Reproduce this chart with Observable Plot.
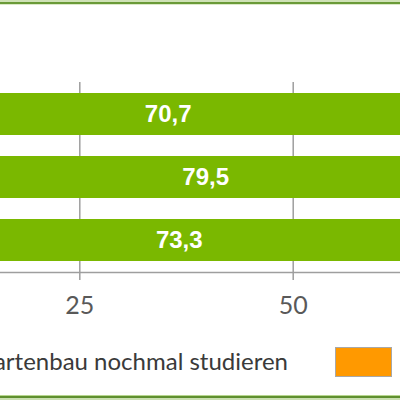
<!DOCTYPE html>
<html>
<head>
<meta charset="utf-8">
<script src="https://cdn.jsdelivr.net/npm/d3@7"></script>
<script src="https://cdn.jsdelivr.net/npm/@observablehq/plot@0.6"></script>
<style>
  html, body { margin: 0; padding: 0; background: #fff; overflow: hidden; }
  #wrap { position: relative; width: 400px; height: 400px; overflow: hidden; background: #fff; }
  #chart svg { display: block; overflow: hidden; }
  .border-top { position: absolute; left: 0; top: 0; width: 400px; height: 5px;
    background: linear-gradient(to bottom, #cfe2b6 0px, #cfe2b6 2px, #6a9a38 2px, #6a9a38 4px, #dbe9c8 4px, #dbe9c8 5px); }
  .border-bottom { position: absolute; left: 0; top: 395px; width: 400px; height: 5px;
    background: linear-gradient(to bottom, #b7d68e 0px, #b7d68e 1px, #5f8f2f 1px, #5f8f2f 3px, #c9dfb0 3px, #c9dfb0 5px); }
  .leg-text { position: absolute; top: 346px; font-family: Lato, "Open Sans", sans-serif; font-size: 24px; color: #3a3a3a; white-space: nowrap; line-height: 30px; }
  .leg-swatch { position: absolute; width: 55px; height: 28px; border: 1px solid #a8a8a8; box-sizing: content-box; }
</style>
</head>
<body>
<div id="wrap">
  <div id="chart"></div>
  <div id="legend"></div>
  <div class="border-top"></div>
  <div class="border-bottom"></div>
</div>
<script>
// Data
const categories = ["Gruppe 1", "Gruppe 2", "Gruppe 3"];
const jaValues = [70.7, 79.5, 73.3];
const neinValues = [29.3, 20.5, 26.7];
const seriesNames = ["Würde Gartenbau nochmal studieren", "Würde Gartenbau nicht nochmal studieren"];
const seriesColors = ["#7ab800", "#ff9900"];
const xTicks = [25, 50];

const rows = [];
categories.forEach((c, i) => {
  rows.push({cat: c, series: seriesNames[0], value: jaValues[i]});
  rows.push({cat: c, series: seriesNames[1], value: neinValues[i]});
});
const jaRows = categories.map((c, i) => ({cat: c, value: jaValues[i]}));

const fmt = v => v.toFixed(1).replace(".", ",");

const chart = Plot.plot({
  width: 400,
  height: 335,
  marginTop: 82,
  marginBottom: 63,
  marginLeft: 0,
  marginRight: 0,
  style: {background: "transparent"},
  x: {domain: [0, 100], range: [-134.1, 719.5]},
  y: {type: "band", domain: categories, paddingInner: 0.33, paddingOuter: 0.15, axis: null},
  color: {domain: seriesNames, range: seriesColors},
  marks: [
    Plot.gridX(xTicks, {stroke: "#9e9e9e", strokeOpacity: 1, strokeWidth: 1.5}),
    Plot.frame({anchor: "bottom", stroke: "#9e9e9e", strokeWidth: 1.5}),
    Plot.axisX(xTicks, {
      anchor: "bottom",
      tickSize: 8,
      tickPadding: 16,
      stroke: "#9e9e9e",
      strokeWidth: 1.5,
      fill: "#595959",
      fontSize: 25,
      fontFamily: "Lato, 'Open Sans', sans-serif",
      tickFormat: d => String(d),
      label: null
    }),
    Plot.barX(rows, {x: "value", y: "cat", fill: "series"}),
    Plot.text(jaRows, {
      x: d => d.value / 2,
      y: "cat",
      text: d => fmt(d.value),
      fill: "white",
      fontWeight: "bold",
      fontSize: 24,
      fontFamily: "'Liberation Sans', Arial, sans-serif"
    })
  ]
});
document.getElementById("chart").appendChild(chart);

// Legend (HTML below the plot area)
const legend = document.getElementById("legend");
const t1 = document.createElement("div");
t1.className = "leg-text";
t1.style.right = "112px";
t1.textContent = seriesNames[0];
legend.appendChild(t1);
const s2 = document.createElement("div");
s2.className = "leg-swatch";
s2.style.left = "335px";
s2.style.top = "347px";
s2.style.background = seriesColors[1];
legend.appendChild(s2);
</script>
</body>
</html>
